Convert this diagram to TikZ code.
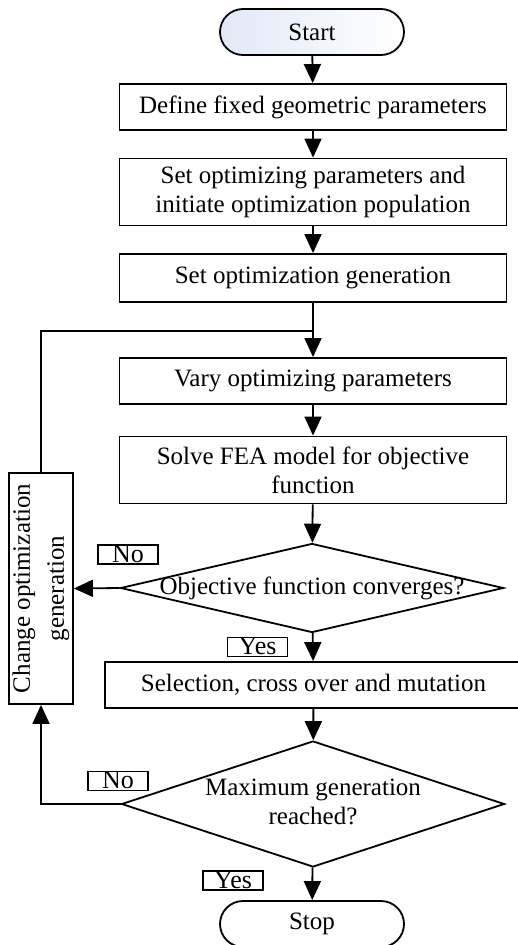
\documentclass[tikz,border=0pt]{standalone}
\usepackage{fontspec}
\setmainfont{Liberation Serif}
\usetikzlibrary{shapes.geometric,arrows.meta}
\definecolor{startfill}{RGB}{226,233,246}

\begin{document}
\begin{tikzpicture}[x=1pt, y=1pt, line width=1.8pt,
    font=\fontsize{25}{29}\selectfont,
    box/.style = {draw, rectangle, minimum width=387pt, minimum height=46pt, inner sep=0pt, align=center},
    term/.style = {draw, rectangle, rounded corners=23pt, minimum width=184pt, minimum height=46pt, inner sep=0pt},
    decision/.style = {draw, diamond, inner sep=0pt, minimum width=383pt, align=center},
    tag/.style = {draw, line width=1.3pt, minimum width=60pt, inner xsep=0pt, inner ysep=2pt, text height=15pt, text depth=0pt, font=\fontsize{26}{26}\selectfont},
    arr/.style = {-{Triangle[length=19pt, width=17pt]}}]
    \useasboundingbox (0,0) rectangle (518,-945);

    \node[term, left color=startfill, right color=white] (start) at (312,-32) {Start};
    \node[box] (define) at (313,-107) {Define fixed geometric parameters};
    \node[box, minimum height=67pt] (setpar) at (313,-192) {Set optimizing parameters and\\initiate optimization population};
    \node[box, minimum height=48pt] (setgen) at (313,-278) {Set optimization generation};
    \node[box] (vary) at (313,-381) {Vary optimizing parameters};
    \node[box, minimum height=67pt] (solve) at (313,-470) {Solve FEA model for objective\\function};
    \node[decision, minimum height=89pt] (conv) at (312,-588) {\makebox[0pt]{Objective function converges?}};
    \node[box, minimum width=417pt] (sel) at (313.5,-685) {Selection, cross over and mutation};
    \node[decision, minimum height=126pt] (maxgen) at (313,-804) {\makebox[0pt]{\begin{tabular}{@{}c@{}}Maximum generation\\reached?\end{tabular}}};
    \node[term] (stop) at (312,-924) {Stop};
    \node[box, rotate=90, minimum width=231pt, minimum height=64pt, font=\fontsize{25}{34}\selectfont] (change) at (41,-588.5) {Change optimization\\generation};

    \node[tag] (no1) at (128,-554.5) {No};
    \node[tag] (yes1) at (257.5,-647) {Yes};
    \node[tag] (no2) at (118,-781) {No};
    \node[tag] (yes2) at (233,-880.5) {Yes};

    \coordinate (join) at (313,-331);

    \draw[arr] (start) -- (define);
    \draw[arr] (define) -- (setpar);
    \draw[arr] (setpar) -- (setgen);
    \draw[arr] (setgen) -- (vary);
    \draw (change.east) |- (join);
    \draw[arr] (vary) -- (solve);
    \draw[arr] (solve) -- (conv);
    \draw[arr] (conv.west) -- (change.south);
    \draw[arr] (conv) -- (sel);
    \draw[arr] (sel) -- (maxgen);
    \draw[arr] (maxgen.west) -| (change.west);
    \draw[arr] (maxgen) -- (stop);
\end{tikzpicture}
\end{document}
